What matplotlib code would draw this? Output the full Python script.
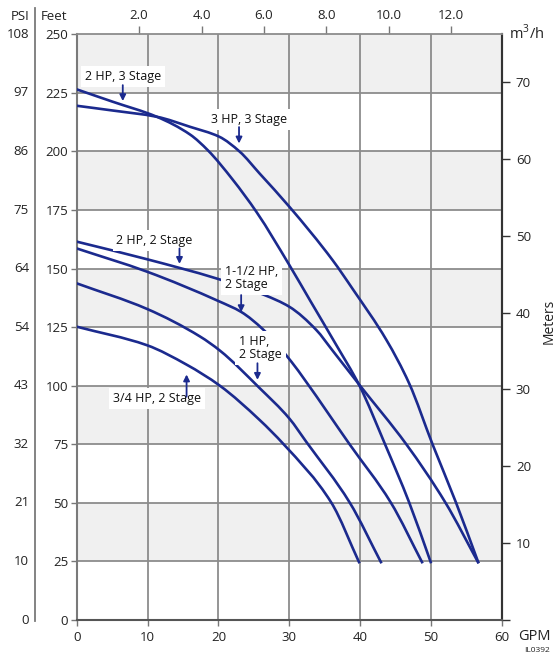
import matplotlib
matplotlib.use("Agg")
import matplotlib.pyplot as plt
from matplotlib.lines import Line2D
from matplotlib.path import Path
from matplotlib.patches import PathPatch
from matplotlib.transforms import blended_transform_factory

plt.rcParams['font.family'] = ['Open Sans', 'DejaVu Sans']
plt.rcParams['mathtext.fontset'] = 'custom'
plt.rcParams['mathtext.rm'] = 'Open Sans'

# ---------------- data ----------------
gpm_3hp3 = [0, 5, 11.3, 16, 20.1, 23, 25.8, 30, 36.1, 39, 43.7, 46.9, 50.2, 53.5, 56.7]
ft_3hp3 = [219.5, 217.5, 214.8, 210.5, 206.3, 199.9, 190.6, 176.4, 153.6, 141, 119.5, 101, 75, 50.2, 24.2]

gpm_2hp3 = [0, 5, 11.3, 16, 18.5, 22, 25.4, 30, 33, 36.5, 39.9, 43.5, 46.9, 50]
ft_2hp3 = [226.5, 221.3, 214.8, 207.2, 200.5, 188, 174, 151.5, 136, 118, 100, 75, 50.2, 24.2]

gpm_2hp2 = [0, 9.9, 19.7, 26.5, 30, 33.8, 36.1, 39.9, 46.5, 52, 56.7]
ft_2hp2 = [161.5, 154, 145.8, 138.7, 133.7, 123.8, 115, 100.3, 75, 50.2, 24.2]

gpm_15hp = [0, 9.9, 20.1, 23.2, 26.3, 30.3, 32.2, 38.5, 44.3, 48.8]
ft_15hp = [158.6, 148.7, 136, 131.5, 124, 110.2, 102.4, 75, 50.2, 24.2]

gpm_1hp = [0, 9.9, 17.4, 20.2, 25.8, 30, 32.4, 38.5, 43]
ft_1hp = [143.7, 132.8, 121, 115, 99, 86, 76, 50.2, 24.2]

gpm_34hp = [0, 9.9, 15.5, 20.2, 25.8, 29.2, 35.9, 39.9]
ft_34hp = [125.2, 117.3, 109, 100, 85.4, 75, 50.2, 24.2]

curves = [(gpm_3hp3, ft_3hp3), (gpm_2hp3, ft_2hp3), (gpm_2hp2, ft_2hp2),
          (gpm_15hp, ft_15hp), (gpm_1hp, ft_1hp), (gpm_34hp, ft_34hp)]

feet_ticks = [0, 25, 50, 75, 100, 125, 150, 175, 200, 225, 250]
psi_labels = ['0', '10', '21', '32', '43', '54', '64', '75', '86', '97', '108']
gpm_ticks = [0, 10, 20, 30, 40, 50, 60]
m3h_ticks = [2, 4, 6, 8, 10, 12]
m3h_labels = ['2.0', '4.0', '6.0', '8.0', '10.0', '12.0']
meter_ticks = [0, 10, 20, 30, 40, 50, 60, 70]
meter_labels = ['', '10', '20', '30', '40', '50', '60', '70']

# labels: (text, x, y, ha), arrows: (tail, tip)
labels = [
    ('2 HP, 3 Stage', 6.5, 231.9, 'center'),
    ('3 HP, 3 Stage', 24.3, 213.7, 'center'),
    ('2 HP, 2 Stage', 11.0, 161.9, 'center'),
    ('1-1/2 HP,\n2 Stage', 20.9, 146.0, 'left'),
    ('1 HP,\n2 Stage', 22.9, 116.1, 'left'),
    ('3/4 HP, 2 Stage', 11.3, 94.6, 'center'),
]
arrows = [
    ((6.5, 228.3), (6.5, 221.5)),
    ((22.9, 210.4), (22.9, 203.4)),
    ((14.5, 158.6), (14.5, 152.0)),
    ((23.2, 138.7), (23.2, 131.4)),
    ((25.5, 109.6), (25.5, 102.5)),
    ((15.5, 95.3), (15.5, 104.8)),
]

navy = '#1b2a8e'
gridc = '#8c8c8c'


def smooth_path(xs, ys):
    """Cubic Hermite (PCHIP-style tangents) path through the data points."""
    n = len(xs)
    h = [xs[i + 1] - xs[i] for i in range(n - 1)]
    d = [(ys[i + 1] - ys[i]) / h[i] for i in range(n - 1)]
    m = [0.0] * n
    m[0], m[-1] = d[0], d[-1]
    for k in range(1, n - 1):
        if d[k - 1] * d[k] <= 0:
            m[k] = 0.0
        else:
            w1 = 2 * h[k] + h[k - 1]
            w2 = h[k] + 2 * h[k - 1]
            m[k] = (w1 + w2) / (w1 / d[k - 1] + w2 / d[k])
    verts = [(xs[0], ys[0])]
    codes = [Path.MOVETO]
    for i in range(n - 1):
        verts += [(xs[i] + h[i] / 3, ys[i] + m[i] * h[i] / 3),
                  (xs[i + 1] - h[i] / 3, ys[i + 1] - m[i + 1] * h[i] / 3),
                  (xs[i + 1], ys[i + 1])]
        codes += [Path.CURVE4] * 3
    return Path(verts, codes)


# ---------------- figure ----------------
W, H = 556, 658
fig = plt.figure(figsize=(W / 100, H / 100), dpi=100)
x0, x1, ytop, ybot = 76.7, 502, 34.3, 620
ax = fig.add_axes([x0 / W, 1 - ybot / H, (x1 - x0) / W, (ybot - ytop) / H])
ax.set_xlim(0, 60)
ax.set_ylim(0, 250)

# alternating bands
for i in range(0, len(feet_ticks) - 1):
    if i % 2 == 1:
        ax.axhspan(feet_ticks[i], feet_ticks[i + 1], color='#f0f0f0', zorder=0, lw=0)

for f in feet_ticks[1:-1]:
    ax.axhline(f, color=gridc, lw=1.3, zorder=1)
for g in gpm_ticks[1:-1]:
    ax.axvline(g, color=gridc, lw=1.3, zorder=1)

for gx, fy in curves:
    ax.add_patch(PathPatch(smooth_path(gx, fy), fill=False, edgecolor=navy, lw=1.9,
                           zorder=3, capstyle='butt', joinstyle='round'))

for text, lx, ly, ha in labels:
    ax.text(lx, ly, text, ha=ha, va='center', fontsize=9, color='#111111',
            linespacing=1.05, zorder=5,
            bbox=dict(boxstyle='square,pad=0.3', fc='white', ec='none'))

for tail, tip in arrows:
    ax.annotate('', xy=tip, xytext=tail, zorder=6,
                arrowprops=dict(arrowstyle='-|>', color=navy, lw=1.3,
                                mutation_scale=9, shrinkA=0, shrinkB=0))

ax.set_xticks(gpm_ticks)
ax.set_yticks(feet_ticks)
ax.tick_params(axis='both', labelsize=9.5, colors='#222222')
ax.tick_params(axis='y', direction='out', length=4, width=1, color='#777777', pad=2)
ax.tick_params(axis='x', direction='out', length=4, width=1, color='#777777', pad=4)

ax.spines['left'].set_color('#7a7a7a')
ax.spines['left'].set_linewidth(1.5)
ax.spines['bottom'].set_color('#555555')
ax.spines['bottom'].set_linewidth(1.5)
ax.spines['top'].set_color(gridc)
ax.spines['top'].set_linewidth(1.3)
ax.spines['right'].set_color('#333333')
ax.spines['right'].set_linewidth(1.5)

# top axis m3/h
secx = ax.secondary_xaxis('top', functions=(lambda g: g / 4.403, lambda m: m * 4.403))
secx.set_xticks(m3h_ticks)
secx.set_xticklabels(m3h_labels)
secx.tick_params(direction='out', length=6, width=1, color='#777777', pad=3,
                 labelsize=9.5, labelcolor='#222222')
secx.spines['top'].set_visible(False)

# right axis meters
secy = ax.secondary_yaxis('right', functions=(lambda f: f * 0.3048, lambda m: m / 0.3048))
secy.set_yticks(meter_ticks)
secy.set_yticklabels(meter_labels)
secy.tick_params(direction='out', length=6, width=1, color='#333333', pad=4,
                 labelsize=9.5, labelcolor='#222222')
secy.spines['right'].set_color('#333333')
secy.spines['right'].set_linewidth(1.5)

# PSI scale on the left
fig.add_artist(Line2D([35 / W, 35 / W], [1 - 8 / H, 1 - 621 / H], color='#7a7a7a', lw=1.3))
tr = blended_transform_factory(fig.transFigure, ax.transData)
for f, p in zip(feet_ticks, psi_labels):
    ax.text(29 / W, f, p, transform=tr, ha='right', va='center', fontsize=9.5,
            color='#222222', clip_on=False)

fig.text(11 / W, 1 - 16 / H, 'PSI', ha='left', va='center', fontsize=9.5, color='#222222')
fig.text(41 / W, 1 - 16 / H, 'Feet', ha='left', va='center', fontsize=9.5, color='#222222')
fig.text(509 / W, 1 - 33 / H, r'm$^{3}$/h', ha='left', va='center', fontsize=10.5, color='#222222')
fig.text(549 / W, 1 - 321 / H, 'Meters', rotation=90, ha='center', va='center', fontsize=10,
         color='#222222')
fig.text(518 / W, 1 - 636 / H, 'GPM', ha='left', va='center', fontsize=10.5, color='#222222')
fig.text(524 / W, 1 - 651 / H, 'IL0392', ha='left', va='center', fontsize=6, color='#222222')

fig.savefig('out.png', dpi=100)
